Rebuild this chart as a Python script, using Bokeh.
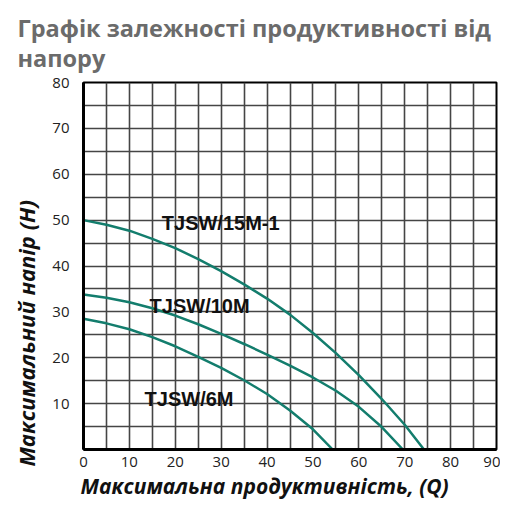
from bokeh.plotting import figure
from bokeh.models import FixedTicker, Label, Title
from bokeh.embed import file_html
from bokeh.resources import INLINE

title_lines = ["Графік залежності продуктивності від", "напору"]
x_title = "Максимальна продуктивність, (Q)"
y_title = "Максимальний напір (H)"

x_ticks = [0, 10, 20, 30, 40, 50, 60, 70, 80, 90]
y_ticks = [10, 20, 30, 40, 50, 60, 70, 80]
x_grid = [0, 5, 10, 15, 20, 25, 30, 35, 40, 45, 50, 55, 60, 65, 70, 75, 80, 85, 90]
y_grid = [0, 5, 10, 15, 20, 25, 30, 35, 40, 45, 50, 55, 60, 65, 70, 75, 80]

# TJSW/15M-1
q_15 = [0, 5, 10, 15, 20, 25, 30, 35, 40, 45, 50, 55, 60, 65, 70, 74.2]
h_15 = [50, 49.0, 47.7, 45.9, 43.9, 41.5, 38.9, 36.0, 32.9, 29.4, 25.4, 21.0, 16.2, 11.0, 5.4, 0]

# TJSW/10M
q_10 = [0, 5, 10, 15, 20, 25, 30, 35, 40, 45, 50, 55, 60, 65, 69.6]
h_10 = [33.8, 33.1, 32.1, 30.8, 29.2, 27.3, 25.2, 23.0, 20.7, 18.3, 15.7, 12.8, 9.3, 4.9, 0]

# TJSW/6M
q_6 = [0, 5, 10, 15, 20, 25, 30, 35, 40, 45, 50, 54.3]
h_6 = [28.5, 27.5, 26.2, 24.5, 22.5, 20.2, 17.8, 15.1, 12.1, 8.5, 4.4, 0]

curve_names = ["TJSW/15M-1", "TJSW/10M", "TJSW/6M"]
name_q = [29.9, 25.3, 23.0]
name_h = [49.3, 31.2, 10.9]

curve_color = "#137d6d"
grid_color = "#454545"

p = figure(width=500, height=506, x_range=(0, 90), y_range=(0, 80),
           output_backend="svg", toolbar_location=None,
           min_border_left=83, min_border_right=4,
           min_border_top=82, min_border_bottom=57)
p.background_fill_color = "white"
p.border_fill_color = "white"
p.outline_line_color = "black"
p.outline_line_width = 2

p.xgrid.ticker = FixedTicker(ticks=x_grid)
p.ygrid.ticker = FixedTicker(ticks=y_grid)
for g in (p.xgrid, p.ygrid):
    g.grid_line_color = grid_color
    g.grid_line_width = 1.6
    g.grid_line_alpha = 1

p.xaxis.ticker = FixedTicker(ticks=x_ticks)
p.yaxis.ticker = FixedTicker(ticks=y_ticks)
for ax in (p.xaxis, p.yaxis):
    ax.axis_line_color = "black"
    ax.axis_line_width = 3
    ax.major_tick_line_color = None
    ax.minor_tick_line_color = None
    ax.major_tick_out = 0
    ax.major_tick_in = 0
    ax.minor_tick_out = 0
    ax.major_label_text_font = "Open Sans"
    ax.major_label_text_font_size = "15px"
    ax.major_label_text_color = "#222222"
p.xaxis.major_label_standoff = 7
p.yaxis.major_label_standoff = 14

p.line(q_15, h_15, line_color=curve_color, line_width=2.5)
p.line(q_10, h_10, line_color=curve_color, line_width=2.5)
p.line(q_6, h_6, line_color=curve_color, line_width=2.5)

for name, q, h in zip(curve_names, name_q, name_h):
    p.add_layout(Label(x=q, y=h, text=name, text_align="center",
                       text_baseline="alphabetic", text_font="Liberation Sans",
                       text_font_style="bold", text_font_size="20px",
                       text_color="#111111"))

# two-line title above the frame
p.add_layout(Title(text="\n".join(title_lines), align="left", offset=-66, standoff=16,
                   text_font="Open Sans", text_font_style="bold",
                   text_font_size="23.5px", text_line_height=0.95,
                   text_color="#6b6b6b"), "above")

p.add_layout(Title(text=x_title, align="left", offset=-3, standoff=0,
                   text_font="Open Sans", text_font_style="bold italic",
                   text_font_size="21px", text_color="#111111"), "below")
p.add_layout(Title(text=y_title, align="left", offset=-17, standoff=17,
                   text_font="Open Sans", text_font_style="bold italic",
                   text_font_size="22px", text_color="#111111"), "left")

open("out.html", "w").write(file_html(p, INLINE))
